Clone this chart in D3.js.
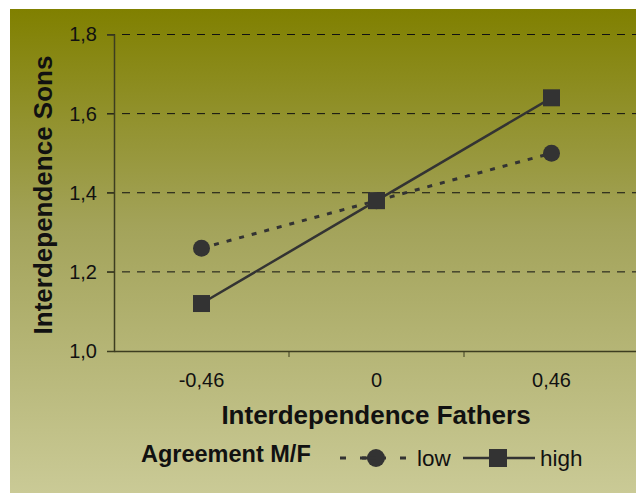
<!DOCTYPE html>
<html><head><meta charset="utf-8">
<script src="https://cdn.jsdelivr.net/npm/d3@7"></script>
<style>body{margin:0;background:#fff}svg{display:block}text{font-family:"Liberation Sans",Arial,sans-serif}</style>
</head><body><svg id="c" width="636" height="493"></svg>
<script>
const categories = ["-0,46", "0", "0,46"];
const lowValues = [1.26, 1.38, 1.50];
const highValues = [1.12, 1.38, 1.64];
const yTicks = [1.0, 1.2, 1.4, 1.6, 1.8];
const seriesNames = ["low", "high"];

const svg = d3.select("#c");
const defs = svg.append("defs");
const g = defs.append("linearGradient").attr("id","bg").attr("x1",0).attr("y1",0).attr("x2",0).attr("y2",1);
g.append("stop").attr("offset","0%").attr("stop-color","#808000");
g.append("stop").attr("offset","45%").attr("stop-color","#a3a35a");
g.append("stop").attr("offset","100%").attr("stop-color","#caca96");
svg.append("rect").attr("x",10).attr("y",9).attr("width",626).attr("height",484).attr("fill","url(#bg)");

const x = d3.scaleBand().domain(categories).range([114, 639]);
const y = d3.scaleLinear().domain([1.0, 1.8]).range([351, 34.5]);
const fmt = d => d3.format(".1f")(d).replace(".", ",");
const FF = "Liberation Sans, Arial, sans-serif";

// gridlines
svg.append("g").selectAll("line").data(yTicks.filter(d => d > 1.0)).join("line")
  .attr("x1",107).attr("x2",636).attr("y1",d=>y(d)).attr("y2",d=>y(d))
  .attr("stroke","#111").attr("stroke-width",1).attr("stroke-dasharray","8,7");

// y axis
const ya = svg.append("g").attr("transform","translate(114,0)")
  .call(d3.axisLeft(y).tickValues(yTicks).tickFormat(fmt).tickSize(7).tickPadding(10));
ya.select(".domain").attr("stroke","#3d3d20").attr("stroke-width",1.5);
ya.selectAll(".tick line").attr("stroke","#3d3d20").attr("stroke-width",1);
ya.selectAll("text").attr("font-size",20).attr("fill","#111").attr("font-family",FF);

// x axis
const xa = svg.append("g").attr("transform","translate(0,351)")
  .call(d3.axisBottom(x).tickSize(0).tickPadding(22));
xa.select(".domain").attr("stroke","#3d3d20").attr("stroke-width",1.5);
xa.selectAll(".tick line").remove();
xa.selectAll("text").attr("font-size",20).attr("fill","#111").attr("font-family",FF);
// x band ticks
svg.append("g").selectAll("line").data(categories.slice(1)).join("line")
  .attr("x1",d=>x(d)).attr("x2",d=>x(d)).attr("y1",351).attr("y2",357)
  .attr("stroke","#3d3d20").attr("stroke-width",1);

const cx = d => x(d) + x.bandwidth()/2;
const line = d3.line().x(d=>cx(d.c)).y(d=>y(d.v));
const lowData = categories.map((c,i)=>({c, v:lowValues[i]}));
const highData = categories.map((c,i)=>({c, v:highValues[i]}));
const col = "#333333";

svg.append("path").datum(lowData).attr("d",line).attr("fill","none").attr("stroke",col).attr("stroke-width",3).attr("stroke-dasharray","5,8");
svg.append("path").datum(highData).attr("d",line).attr("fill","none").attr("stroke",col).attr("stroke-width",2.5);
svg.append("g").selectAll("circle").data(lowData).join("circle")
  .attr("cx",d=>cx(d.c)).attr("cy",d=>y(d.v)).attr("r",8.5).attr("fill",col);
svg.append("g").selectAll("rect").data(highData).join("rect")
  .attr("x",d=>cx(d.c)-8.5).attr("y",d=>y(d.v)-8.5).attr("width",17).attr("height",17).attr("fill",col);

// titles
svg.append("text").attr("x",376).attr("y",424).attr("text-anchor","middle")
  .attr("font-size",26).attr("font-weight","bold").attr("fill","#111").text("Interdependence Fathers");
svg.append("text").attr("transform","translate(52,195) rotate(-90)").attr("text-anchor","middle")
  .attr("font-size",26).attr("font-weight","bold").attr("fill","#111").text("Interdependence Sons");

// legend
const ly = 458;
svg.append("text").attr("x",141).attr("y",ly+4).attr("font-size",23.5).attr("font-weight","bold").attr("fill","#111").text("Agreement M/F");
svg.append("line").attr("x1",340).attr("x2",407).attr("y1",ly).attr("y2",ly).attr("stroke",col).attr("stroke-width",3).attr("stroke-dasharray","6,14");
svg.append("circle").attr("cx",376).attr("cy",ly).attr("r",9).attr("fill",col);
svg.append("line").attr("x1",362).attr("x2",376).attr("y1",ly).attr("y2",ly).attr("stroke",col).attr("stroke-width",3);
svg.append("text").attr("x",417).attr("y",ly+8).attr("font-size",22.5).attr("fill","#111").text(seriesNames[0]);
svg.append("line").attr("x1",463).attr("x2",535).attr("y1",ly).attr("y2",ly).attr("stroke",col).attr("stroke-width",2.5);
svg.append("rect").attr("x",489).attr("y",ly-9).attr("width",18).attr("height",18).attr("fill",col);
svg.append("text").attr("x",540).attr("y",ly+8).attr("font-size",22.5).attr("fill","#111").text(seriesNames[1]);
</script></body></html>
